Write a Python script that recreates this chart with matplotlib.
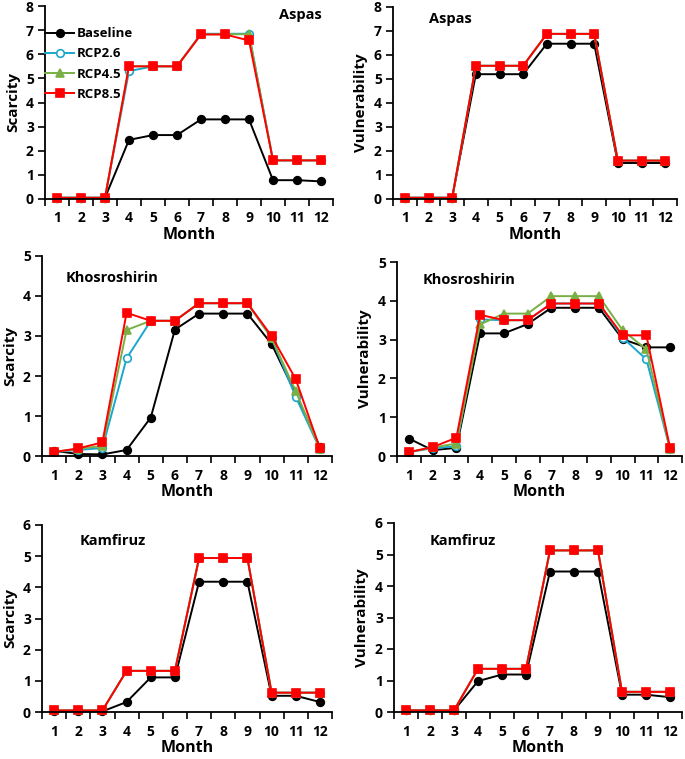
import matplotlib
matplotlib.use("Agg")
import matplotlib.pyplot as plt
from matplotlib.ticker import FixedLocator

plt.rcParams['font.family'] = ['Open Sans', 'DejaVu Sans']
plt.rcParams['font.weight'] = 'bold'

months = list(range(1, 13))
series_names = ["Baseline", "RCP2.6", "RCP4.5", "RCP8.5"]

# Aspas
aspas_scar_base = [0.05, 0.05, 0.05, 2.45, 2.65, 2.65, 3.3, 3.3, 3.3, 0.78, 0.78, 0.73]
aspas_scar_26 = [0.05, 0.05, 0.05, 5.3, 5.5, 5.5, 6.85, 6.85, 6.85, 1.6, 1.6, 1.6]
aspas_scar_45 = [0.05, 0.05, 0.05, 5.5, 5.5, 5.5, 6.83, 6.83, 6.83, 1.6, 1.6, 1.6]
aspas_scar_85 = [0.05, 0.05, 0.05, 5.5, 5.5, 5.5, 6.82, 6.82, 6.57, 1.6, 1.6, 1.6]

aspas_vul_base = [0.05, 0.05, 0.05, 5.2, 5.2, 5.2, 6.47, 6.47, 6.47, 1.5, 1.5, 1.5]
aspas_vul_26 = [0.05, 0.05, 0.05, 5.55, 5.55, 5.55, 6.88, 6.88, 6.88, 1.6, 1.6, 1.6]
aspas_vul_45 = [0.05, 0.05, 0.05, 5.55, 5.55, 5.55, 6.88, 6.88, 6.88, 1.6, 1.6, 1.6]
aspas_vul_85 = [0.05, 0.05, 0.05, 5.55, 5.55, 5.55, 6.88, 6.88, 6.88, 1.6, 1.6, 1.6]

# Khosroshirin
khos_scar_base = [0.13, 0.05, 0.04, 0.15, 0.96, 3.16, 3.56, 3.56, 3.56, 2.8, 1.55, 0.23]
khos_scar_26 = [0.1, 0.15, 0.2, 2.44, 3.38, 3.38, 3.82, 3.82, 3.82, 2.95, 1.48, 0.17]
khos_scar_45 = [0.1, 0.18, 0.25, 3.15, 3.38, 3.38, 3.82, 3.82, 3.82, 2.95, 1.62, 0.17]
khos_scar_85 = [0.1, 0.19, 0.34, 3.58, 3.38, 3.38, 3.82, 3.82, 3.82, 3.0, 1.92, 0.19]

khos_vul_base = [0.45, 0.15, 0.21, 3.16, 3.16, 3.4, 3.82, 3.82, 3.82, 3.01, 2.8, 2.8]
khos_vul_26 = [0.1, 0.2, 0.25, 3.52, 3.5, 3.5, 3.93, 3.93, 3.93, 3.05, 2.49, 0.17]
khos_vul_45 = [0.1, 0.22, 0.32, 3.39, 3.67, 3.67, 4.12, 4.12, 4.12, 3.24, 2.75, 0.17]
khos_vul_85 = [0.1, 0.23, 0.47, 3.64, 3.5, 3.5, 3.93, 3.93, 3.93, 3.11, 3.11, 0.2]

# Kamfiruz
kamf_scar_base = [0.02, 0.02, 0.02, 0.32, 1.11, 1.11, 4.18, 4.18, 4.18, 0.52, 0.52, 0.32]
kamf_scar_26 = [0.05, 0.05, 0.05, 1.32, 1.32, 1.32, 4.94, 4.94, 4.94, 0.62, 0.62, 0.62]
kamf_scar_45 = [0.05, 0.05, 0.05, 1.32, 1.32, 1.32, 4.94, 4.94, 4.94, 0.62, 0.62, 0.62]
kamf_scar_85 = [0.05, 0.05, 0.05, 1.32, 1.32, 1.32, 4.94, 4.94, 4.94, 0.62, 0.62, 0.62]

kamf_vul_base = [0.05, 0.05, 0.05, 0.98, 1.19, 1.19, 4.46, 4.46, 4.46, 0.55, 0.55, 0.47]
kamf_vul_26 = [0.05, 0.05, 0.05, 1.37, 1.37, 1.37, 5.13, 5.13, 5.13, 0.64, 0.64, 0.64]
kamf_vul_45 = [0.05, 0.05, 0.05, 1.37, 1.37, 1.37, 5.13, 5.13, 5.13, 0.64, 0.64, 0.64]
kamf_vul_85 = [0.05, 0.05, 0.05, 1.37, 1.37, 1.37, 5.13, 5.13, 5.13, 0.64, 0.64, 0.64]

styles = [
    dict(color="black", marker="o", mfc="black", mec="black"),
    dict(color="#1AA7CE", marker="o", mfc="white", mec="#1AA7CE"),
    dict(color="#7AAF45", marker="^", mfc="#7AAF45", mec="#7AAF45"),
    dict(color="#FF0000", marker="s", mfc="#FF0000", mec="#FF0000"),
]

W, H = 685, 759
fig = plt.figure(figsize=(W / 100, H / 100), dpi=100)

panels = [
    ((45, 333, 6, 199), 8, "Scarcity", "Aspas", (0.96, 0.953, "right"),
     [aspas_scar_base, aspas_scar_26, aspas_scar_45, aspas_scar_85], True),
    ((393, 677, 7, 199), 8, "Vulnerability", "Aspas", (0.127, 0.94, "left"),
     [aspas_vul_base, aspas_vul_26, aspas_vul_45, aspas_vul_85], False),
    ((42, 332, 256, 456), 5, "Scarcity", "Khosroshirin", (0.08, 0.89, "left"),
     [khos_scar_base, khos_scar_26, khos_scar_45, khos_scar_85], False),
    ((397, 682, 262, 456), 5, "Vulnerability", "Khosroshirin", (0.09, 0.907, "left"),
     [khos_vul_base, khos_vul_26, khos_vul_45, khos_vul_85], False),
    ((42, 332, 525, 712), 6, "Scarcity", "Kamfiruz", (0.13, 0.914, "left"),
     [kamf_scar_base, kamf_scar_26, kamf_scar_45, kamf_scar_85], False),
    ((394, 682, 523, 712), 6, "Vulnerability", "Kamfiruz", (0.125, 0.905, "left"),
     [kamf_vul_base, kamf_vul_26, kamf_vul_45, kamf_vul_85], False),
]

for (l, r, t, b), ymax, ylab, title, (tx, ty, ha), data, legend in panels:
    ax = fig.add_axes([l / W, 1 - b / H, (r - l) / W, (b - t) / H])
    for name, vals, st in zip(series_names, data, styles):
        ax.plot(months, vals, color=st["color"], marker=st["marker"], mfc=st["mfc"],
                mec=st["mec"], mew=1.2, markersize=5.5, linewidth=1.4, label=name,
                clip_on=False)
    ax.set_xlim(0.5, 12.5)
    ax.set_ylim(0, ymax)
    ax.set_yticks(range(0, ymax + 1))
    ax.set_xticks(months)
    ax.xaxis.set_minor_locator(FixedLocator([m + 0.5 for m in range(0, 13)]))
    ax.tick_params(axis="x", which="major", length=0, labelsize=10, pad=9)
    ax.tick_params(axis="x", which="minor", length=5, width=1.2, direction="out")
    ax.tick_params(axis="y", which="major", length=5, width=1.2, direction="out",
                   labelsize=10, pad=3)
    for lbl in ax.get_xticklabels() + ax.get_yticklabels():
        lbl.set_fontweight("bold")
    for s in ("top", "right"):
        ax.spines[s].set_visible(False)
    for s in ("left", "bottom"):
        ax.spines[s].set_linewidth(1.3)
    ax.set_xlabel("Month", fontsize=11.5, fontweight="bold", labelpad=1)
    ax.set_ylabel(ylab, fontsize=11, fontweight="bold", labelpad=4)
    ax.text(tx, ty, title, transform=ax.transAxes, ha=ha, va="center",
            fontsize=10.5, fontweight="bold")
    if legend:
        leg = ax.legend(loc="upper left", bbox_to_anchor=(0.0, 0.89), frameon=False,
                        fontsize=9.5, handlelength=2.2, handletextpad=0.2,
                        labelspacing=0.55, borderaxespad=0.0, borderpad=0.0)
        for txt in leg.get_texts():
            txt.set_fontweight("bold")

fig.savefig("out.png", dpi=100)
